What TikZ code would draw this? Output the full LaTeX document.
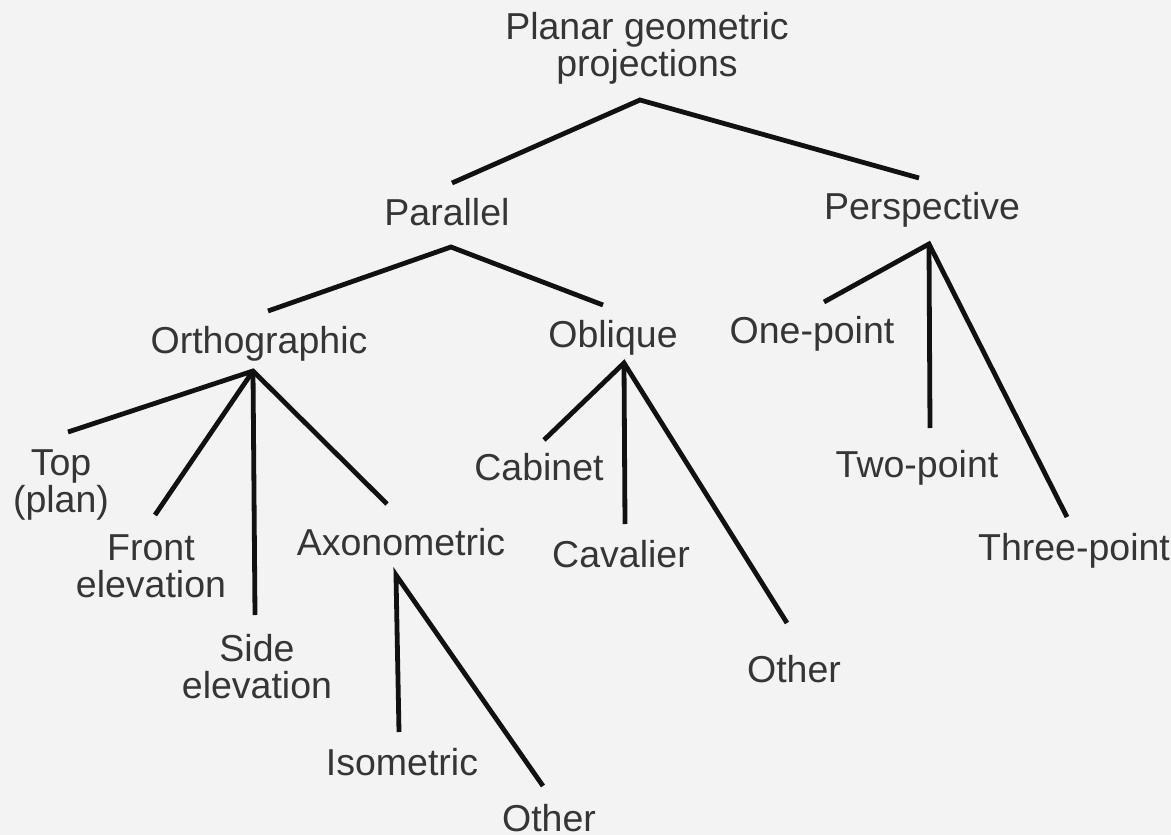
\documentclass[tikz,border=0pt]{standalone}
\usepackage{fontspec}
\setmainfont{Liberation Sans}
\definecolor{paper}{HTML}{F3F3F3}
\definecolor{ink}{HTML}{353535}
\definecolor{wire}{HTML}{111111}
\begin{document}
\begin{tikzpicture}[x=1pt,y=-1pt,
  lbl/.style={inner sep=0pt, anchor=base, align=center, text=ink,
              font=\fontsize{37.5}{37}\selectfont},
  branch/.style={draw=wire, line width=4.8pt, line join=miter, line cap=butt}]
\path[fill=paper] (0,0) rectangle (1171,835);
\useasboundingbox (0,0) rectangle (1171,835);

% nodes (single-line: at baseline; two-line: at baseline of last line)
\node[lbl] (root)  at (647,76)  {Planar geometric\\projections};
\node[lbl] (par)   at (447,225) {Parallel};
\node[lbl] (persp) at (922,219) {Perspective};
\node[lbl] (ortho) at (259,353) {Orthographic};
\node[lbl] (obl)   at (613,347) {Oblique};
\node[lbl] (one)   at (812,343) {One-point};
\node[lbl] (two)   at (917,477) {Two-point};
\node[lbl] (three) at (1074,560){Three-point};
\node[lbl] (top)   at (61,512)  {Top\\(plan)};
\node[lbl] (front) at (151,597) {Front\\elevation};
\node[lbl] (side)  at (257,698) {Side\\elevation};
\node[lbl] (axo)   at (401,555) {Axonometric};
\node[lbl] (iso)   at (402,775) {Isometric};
\node[lbl] (othA)  at (549,831) {Other};
\node[lbl] (cab)   at (539,480) {Cabinet};
\node[lbl] (cav)   at (621,567) {Cavalier};
\node[lbl] (othB)  at (794,682) {Other};

% connectors
\draw[branch] ([shift={(5,-42)}]par.base) -- ([shift={(-7,24)}]root.base) -- ([shift={(-3,-41)}]persp.base);
\draw[branch] ([shift={(9,-42)}]ortho.base) -- ([shift={(4,22)}]par.base) -- ([shift={(-10,-42)}]obl.base);
\draw[branch] ([shift={(12,-41)}]one.base) -- ([shift={(7,25)}]persp.base) -- ([shift={(-7,-43)}]three.base);
\draw[branch] ([shift={(7,25)}]persp.base) -- ([shift={(13,-49)}]two.base);
\draw[branch] ([shift={(7,-80)}]top.base) -- ([shift={(-6,18)}]ortho.base) -- ([shift={(-14,-51)}]axo.base);
\draw[branch] ([shift={(-6,18)}]ortho.base) -- ([shift={(4,-82)}]front.base);
\draw[branch] ([shift={(-6,18)}]ortho.base) -- ([shift={(-2,-83)}]side.base);
\draw[branch] ([shift={(5,-40)}]cab.base) -- ([shift={(11,16)}]obl.base) -- ([shift={(-7,-59)}]othB.base);
\draw[branch] ([shift={(11,16)}]obl.base) -- ([shift={(4,-43)}]cav.base);
\draw[branch] ([shift={(-3,-43)}]iso.base) -- ([shift={(-5,20)}]axo.base) -- ([shift={(-6,-45)}]othA.base);
\end{tikzpicture}
\end{document}
